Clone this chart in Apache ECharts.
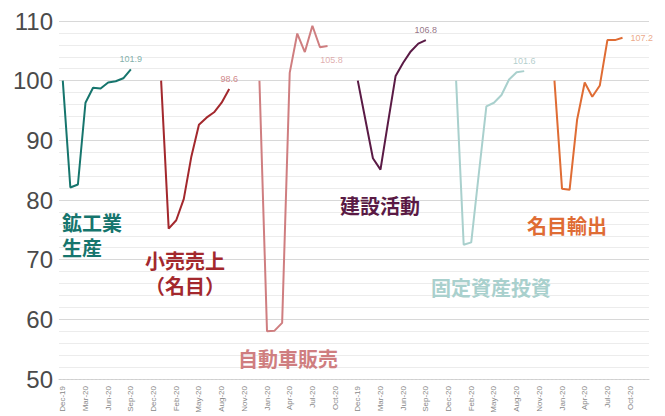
<!DOCTYPE html>
<html>
<head>
<meta charset="utf-8">
<script src="https://cdn.jsdelivr.net/npm/echarts@6/dist/echarts.min.js"></script>
<style>
html,body{margin:0;padding:0;background:#fff;}
#chart{width:665px;height:416px;}
</style>
</head>
<body>
<div id="chart"></div>
<script>
// Months of each panel (Dec-19 .. Dec-20), repeated once per panel
var months = ['Dec-19','Jan-20','Feb-20','Mar-20','Apr-20','May-20','Jun-20','Jul-20','Aug-20','Sep-20','Oct-20','Nov-20','Dec-20'];
var yTicks = [50, 60, 70, 80, 90, 100, 110];

// Series values (index, Dec-19 = 100), Dec-19 .. Sep-20
var mining       = [100, 82.1, 82.6, 96.3, 98.8, 98.7, 99.7, 99.9, 100.4, 101.9];
var retail       = [100, 75.2, 76.6, 80.2, 87.3, 92.6, 93.8, 94.7, 96.3, 98.6];
var autoSales    = [100, 58.0, 58.1, 59.4, 101.3, 107.9, 104.8, 109.2, 105.6, 105.8];
var construction = [100, 93.5, 87.0, 85.1, 93.0, 100.8, 103.0, 104.9, 106.2, 106.8];
var fixedInvest  = [100, 72.5, 72.9, 84.4, 95.7, 96.3, 97.6, 100.2, 101.4, 101.6];
var exportsNom   = [100, 81.9, 81.7, 93.5, 99.7, 97.3, 99.2, 106.8, 106.8, 107.2];

var panelNames = [['鉱工業', '生産'], ['小売売上', '（名目）'], ['自動車販売'], ['建設活動'], ['固定資産投資'], ['名目輸出']];
var panelValues = [mining, retail, autoSales, construction, fixedInvest, exportsNom];
var lastLabels = ['101.9', '98.6', '105.8', '106.8', '101.6', '107.2'];

// styling (not data)
var colors = ['#16756d', '#a3282d', '#cf7e80', '#5a1a45', '#a9d0cd', '#df6c34'];
var labelColors = ['#5f9c96', '#c46a6d', '#d89a9b', '#7a5068', '#9fc2c0', '#e6926a'];
var labelPos = ['top', 'top', 'bottom', 'top', 'top', 'right'];
var labelOff = [[0,0],[0,0],[4,3],[0,0],[0,0],[2,0]];
var textPos = [[62,212],[145,250],[238,348],[340,195],[431,277],[527,215]];

var categories = [];
for (var p = 0; p < panelValues.length; p++) {
  for (var m = 0; m < months.length; m++) categories.push(months[m]);
}

var series = panelValues.map(function(vals, k){
  var data = categories.map(function(){ return null; });
  vals.forEach(function(v, i){ data[k * months.length + i] = v; });
  return {
    type: 'line', name: panelNames[k].join(''), data: data,
    showSymbol: false, symbol: 'none', connectNulls: false,
    lineStyle: { color: colors[k], width: 2 },
    itemStyle: { color: colors[k] },
    emphasis: { disabled: true }, animation: false, z: 3
  };
});

// last-value labels, drawn at the final point of each panel
panelValues.forEach(function(vals, k){
  var i = vals.length - 1;
  series.push({
    type: 'scatter', name: 'last' + k, z: 4, animation: false,
    symbol: 'circle', symbolSize: 2,
    itemStyle: { color: 'rgba(0,0,0,0)' },
    emphasis: { disabled: true }, silent: true,
    data: [[k * months.length + i, vals[i]]],
    label: {
      show: true, position: labelPos[k], offset: labelOff[k], distance: 5,
      formatter: lastLabels[k], color: labelColors[k], fontSize: 9,
      fontFamily: 'Liberation Sans'
    }
  });
});

var graphics = [];
panelNames.forEach(function(lines, k){
  lines.forEach(function(line, j){
    graphics.push({
      type: 'text', left: textPos[k][0], top: textPos[k][1] + j * 25, z: 10,
      style: {
        text: line, fill: colors[k], fontSize: 20, fontWeight: 'bold', lineHeight: 21,
        fontFamily: '"Noto Sans CJK JP", sans-serif'
      }
    });
  });
});

var chart = echarts.init(document.getElementById('chart'), null, {renderer: 'svg'});
chart.setOption({
  animation: false,
  backgroundColor: '#ffffff',
  grid: { left: 59, right: 16, top: 21, bottom: 37, containLabel: false },
  xAxis: {
    type: 'category', data: categories, boundaryGap: true,
    axisLine: { show: true, lineStyle: { color: '#cfcfcf', type: [2, 2], width: 1 } },
    axisTick: { show: false },
    axisLabel: {
      interval: 2, rotate: 90, fontSize: 8, color: '#888',
      fontFamily: 'Liberation Sans', margin: 7
    },
    splitLine: { show: false }
  },
  yAxis: {
    type: 'value', min: yTicks[0], max: yTicks[yTicks.length - 1], interval: 10,
    axisLine: { show: false }, axisTick: { show: false },
    axisLabel: {
      fontSize: 24, color: '#4a4a4a', fontFamily: 'Liberation Sans', margin: 6,
      formatter: function(v){ return yTicks.indexOf(v) >= 0 ? String(v) : ''; }
    },
    splitLine: { show: true, lineStyle: { color: '#d8d8d8', width: 1 } },
    minorTick: { show: false, splitNumber: 5 },
    minorSplitLine: { show: true, lineStyle: { color: '#ececec', width: 1 } }
  },
  series: series,
  graphic: graphics
});
</script>
</body>
</html>
